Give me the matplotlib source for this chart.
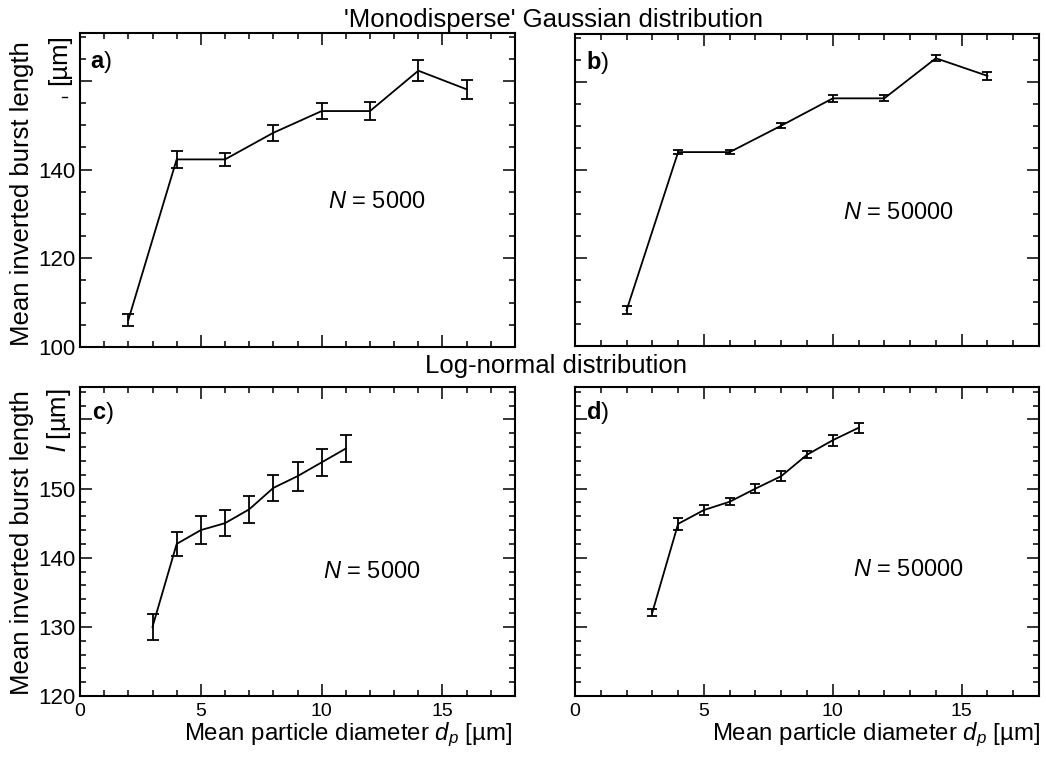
import matplotlib
matplotlib.use("Agg")
import matplotlib.pyplot as plt
from matplotlib.ticker import MultipleLocator, FuncFormatter
from matplotlib.lines import Line2D

plt.rcParams['font.family'] = ['Liberation Sans', 'DejaVu Sans']
plt.rcParams['mathtext.fontset'] = 'custom'
plt.rcParams['mathtext.rm'] = 'Liberation Sans'
plt.rcParams['mathtext.it'] = 'Liberation Sans:italic'
plt.rcParams['mathtext.bf'] = 'Liberation Sans:bold'

# ---- data ----
x_gauss = [2, 4, 6, 8, 10, 12, 14, 16]
y_a = [106.1, 142.3, 142.3, 148.3, 153.2, 153.2, 162.3, 158.1]
e_a = [1.4, 2.0, 1.5, 1.8, 1.8, 2.1, 2.3, 2.2]
y_b = [108.1, 144.0, 144.0, 150.0, 156.2, 156.2, 165.3, 161.3]
e_b = [0.9, 0.4, 0.4, 0.5, 0.8, 0.7, 0.7, 0.9]

x_logn = [3, 4, 5, 6, 7, 8, 9, 10, 11]
y_c = [130.0, 142.0, 144.0, 145.0, 147.0, 150.1, 151.8, 153.8, 155.8]
e_c = [1.9, 1.75, 2.0, 1.9, 2.0, 1.9, 2.1, 2.0, 1.9]
y_d = [132.1, 144.9, 146.9, 148.1, 150.0, 151.8, 154.9, 157.0, 158.8]
e_d = [0.5, 0.9, 0.7, 0.5, 0.7, 0.7, 0.5, 0.8, 0.7]

panel_labels = ['a', 'b', 'c', 'd']
n_labels = ['5000', '50000', '5000', '50000']

W, H = 1046, 765
fig = plt.figure(figsize=(W / 100, H / 100), dpi=100)

def rect(l, r, t, b):
    return [l / W, 1 - b / H, (r - l) / W, (b - t) / H]

ax_a = fig.add_axes(rect(80, 515, 33, 347))
ax_b = fig.add_axes(rect(575, 1039, 34, 346))
ax_c = fig.add_axes(rect(80, 515, 387, 696))
ax_d = fig.add_axes(rect(575, 1039, 387, 696))
axes = [ax_a, ax_b, ax_c, ax_d]

series = [(x_gauss, y_a, e_a), (x_gauss, y_b, e_b), (x_logn, y_c, e_c), (x_logn, y_d, e_d)]
caps = [4.3, 3.6, 4.3, 3.6]
n_pos = [(0.570, 0.462), (0.578, 0.427), (0.559, 0.401), (0.599, 0.408)]
lab_pos = [(0.022, 0.907), (0.024, 0.908), (0.028, 0.916), (0.024, 0.919)]

def hide160(v, pos):
    return '' if v >= 159.5 else '%d' % round(v)

for i, ax in enumerate(axes):
    xs, ys, es = series[i]
    ax.errorbar(xs, ys, yerr=es, color='black', lw=1.3, elinewidth=1.3,
                capsize=caps[i], capthick=1.3)
    ax.set_xlim(0, 18)
    if i < 2:
        ax.set_ylim(100, 170.8)
        ax.yaxis.set_major_locator(MultipleLocator(20))
        ax.yaxis.set_minor_locator(MultipleLocator(5))
    else:
        ax.set_ylim(120, 164.7)
        ax.yaxis.set_major_locator(MultipleLocator(10))
        ax.yaxis.set_minor_locator(MultipleLocator(2))
    ax.xaxis.set_major_locator(MultipleLocator(5))
    ax.xaxis.set_minor_locator(MultipleLocator(1))
    ax.tick_params(which='both', direction='in', top=True, right=True, width=1.1, color='black')
    ax.tick_params(which='major', length=8.5)
    ax.tick_params(which='minor', length=4.3)
    ax.tick_params(axis='x', labelsize=14, pad=5)
    ax.tick_params(axis='y', labelsize=16, pad=3.5)
    ax.yaxis.set_major_formatter(FuncFormatter(hide160))
    for s in ax.spines.values():
        s.set_linewidth(1.5)
    if i < 2:
        ax.tick_params(axis='x', labelbottom=False)
    if i in (1, 3):
        ax.tick_params(axis='y', labelleft=False)
    ax.text(n_pos[i][0], n_pos[i][1], r'$\mathit{N}$ = ' + n_labels[i], transform=ax.transAxes,
            fontsize=17, ha='left', va='center')
    ax.text(lab_pos[i][0], lab_pos[i][1], r'$\mathbf{' + panel_labels[i] + '}$)', transform=ax.transAxes,
            fontsize=17, ha='left', va='center')

fig.text(553 / W, 1 - 20 / H, "'Monodisperse' Gaussian distribution", fontsize=18.5, ha='center', va='center')
fig.text(556 / W, 1 - 366 / H, "Log-normal distribution", fontsize=18.5, ha='center', va='center')

fig.text(22 / W, 1 - 194 / H, "Mean inverted burst length", fontsize=18.5, rotation=90, ha='center', va='center')
fig.text(22 / W, 1 - 543 / H, "Mean inverted burst length", fontsize=18.5, rotation=90, ha='center', va='center')
fig.text(59 / W, 1 - 60 / H, "[µm]", fontsize=18.5, rotation=90, ha='center', va='center')
fig.text(59 / W, 1 - 420 / H, r"$\mathit{l}$ [µm]", fontsize=18.5, rotation=90, ha='center', va='center')
# small stray mark below the upper "[µm]" as in the original
fig.add_artist(Line2D([62 / W, 67 / W], [1 - 97 / H, 1 - 97 / H], color='black', lw=1.0))

fig.text(512 / W, 1 - 740 / H, r"Mean particle diameter $\mathit{d}_{\mathit{p}}$ [µm]", fontsize=17.3,
         ha='right', va='baseline')
fig.text(1040 / W, 1 - 740 / H, r"Mean particle diameter $\mathit{d}_{\mathit{p}}$ [µm]", fontsize=17.3,
         ha='right', va='baseline')

fig.savefig('out.png', dpi=100)
